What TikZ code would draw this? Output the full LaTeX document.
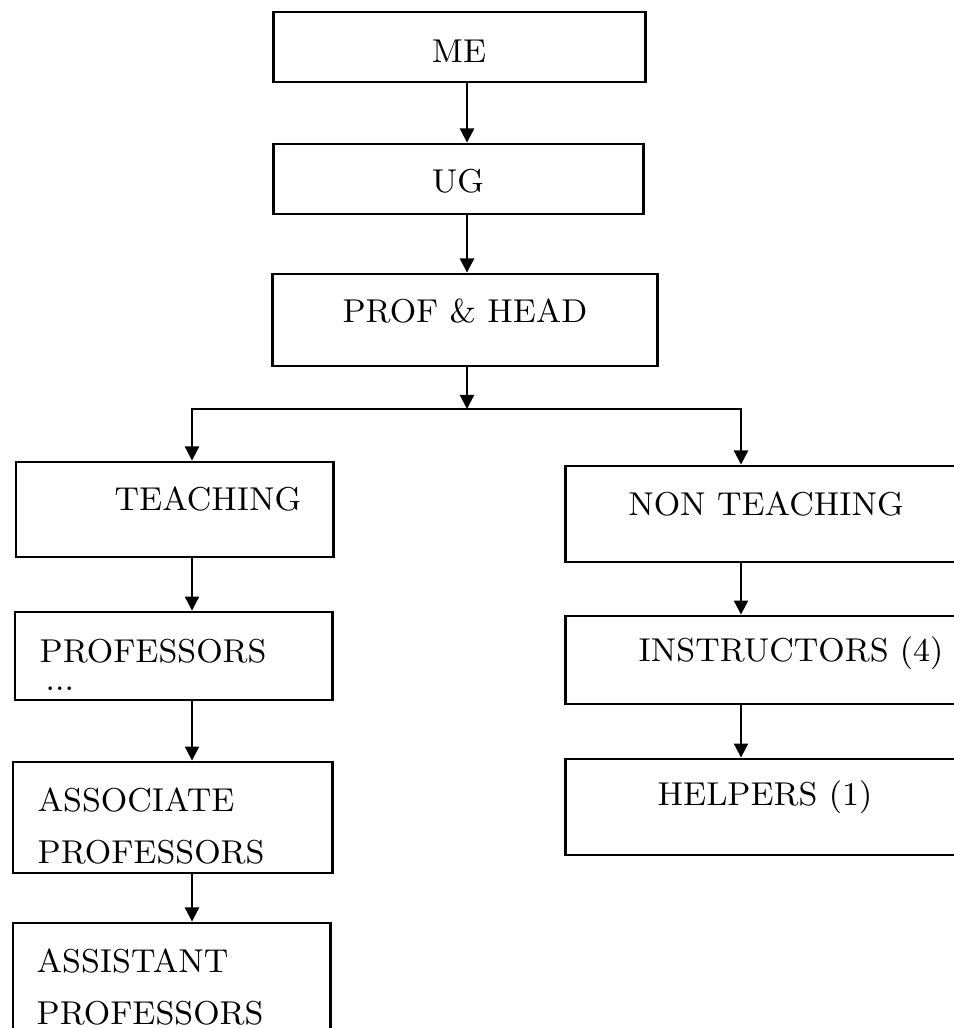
\documentclass[tikz,border=0pt]{standalone}
\usetikzlibrary{arrows.meta}

\begin{document}
\begin{tikzpicture}[x = 0.01cm, y = -0.01cm,
		box/.style = {draw, line width = 0.8pt, inner sep = 0pt},
		lbl/.style = {inner sep = 0pt, font = \fontsize{9.4}{14.6}\selectfont},
		arr/.style = {line width = 0.6pt, -{Triangle[length = 4pt, width = 4pt]}}]
	\useasboundingbox (0,0) rectangle (953,1028);

	% top column
	\begin{scope}
		\node [box, minimum width = 3.71cm, minimum height = 0.70cm] (me) at (459.5,47) {};
		\node [box, minimum width = 3.69cm, minimum height = 0.70cm] (ug) at (458.5,179) {};
		\node [box, minimum width = 3.84cm, minimum height = 0.92cm] (head) at (465,320) {};
		\node [lbl, anchor = base] (meT) at (459,63) {ME};
		\node [lbl, anchor = base] (ugT) at (458,193) {UG};
		\node [lbl, anchor = base] (headT) at (465,323) {PROF \& HEAD};
	\end{scope}

	% teaching
	\begin{scope}
		\node [box, minimum width = 3.17cm, minimum height = 0.95cm] (teach) at (174.5,509.5) {};
		\node [box, minimum width = 3.17cm, minimum height = 0.88cm] (prof) at (173.5,656) {};
		\node [box, minimum width = 3.19cm, minimum height = 1.11cm] (assoc) at (172.5,817.5) {};
		\node [box, minimum width = 3.17cm, minimum height = 1.57cm] (asst) at (171.5,1001.5) {};
		\node [lbl, anchor = base] (teachT) at (208,510) {TEACHING};
		\node [lbl, anchor = base west] (profT) at (39,662) {PROFESSORS};
		\node [lbl, anchor = base west] (profD) at (45,690) {...};
		% base of a two line node is its last line
		\node [lbl, anchor = base west, align = left] (assocT) at (37,863) {ASSOCIATE\\PROFESSORS};
		\node [lbl, anchor = base west, align = left] (asstT) at (36,1024) {ASSISTANT\\PROFESSORS};
	\end{scope}

	% non teaching
	\begin{scope}
		\node [box, minimum width = 4.14cm, minimum height = 0.96cm] (nonteach) at (773,514) {};
		\node [box, minimum width = 4.14cm, minimum height = 0.88cm] (instr) at (773,660) {};
		\node [box, minimum width = 4.14cm, minimum height = 0.96cm] (help) at (773,807) {};
		\node [lbl, anchor = base] (nonteachT) at (766,515) {NON TEACHING};
		\node [lbl, anchor = base] (instrT) at (791,661) {INSTRUCTORS (4)};
		\node [lbl, anchor = base] (helpT) at (765,805) {HELPERS (1)};
	\end{scope}

	% connectors
	\coordinate (topx) at (467,0);
	\coordinate (lx) at (192,0);
	\coordinate (rx) at (741,0);
	\coordinate (br) at (467,409);
	\begin{scope}[arr]
		\draw (me.south -| topx) -- (ug.north -| topx);
		\draw (ug.south -| topx) -- (head.north -| topx);
		\draw (head.south -| topx) -- (br);
		\draw (br) -| (teach.north -| lx);
		\draw (br) -| (nonteach.north -| rx);
		\draw (teach.south -| lx) -- (prof.north -| lx);
		\draw (prof.south -| lx) -- (assoc.north -| lx);
		\draw (assoc.south -| lx) -- (asst.north -| lx);
		\draw (nonteach.south -| rx) -- (instr.north -| rx);
		\draw (instr.south -| rx) -- (help.north -| rx);
	\end{scope}
\end{tikzpicture}
\end{document}
